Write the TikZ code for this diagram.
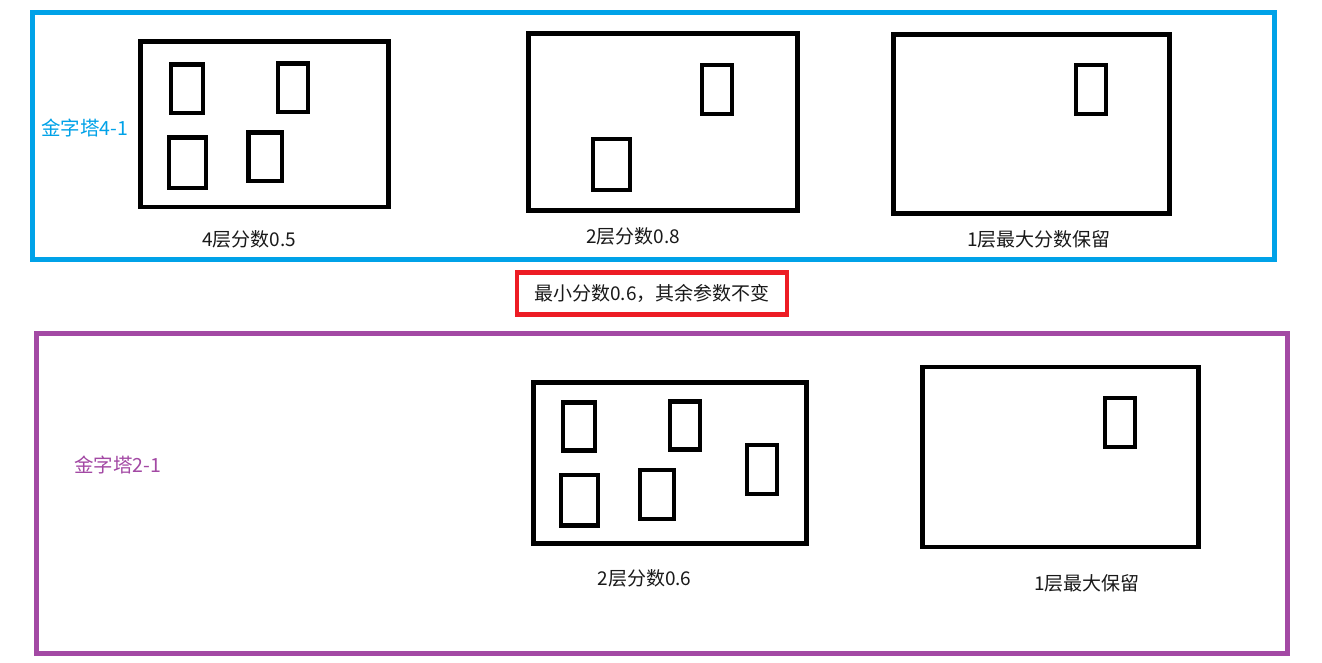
\documentclass[tikz,border=0pt]{standalone}
\usepackage{fontspec}
\setmainfont{Noto Sans CJK SC}
\usetikzlibrary{fit}
\definecolor{pblue}{HTML}{00A2E8}
\definecolor{ppurple}{HTML}{A349A4}
\definecolor{pred}{HTML}{ED1C24}
\begin{document}
\begin{tikzpicture}[x=1pt,y=-1pt,
  bigbox/.style={draw=black, line width=4.6pt, inner sep=0pt, outer sep=0pt},
  smallbox/.style={draw=black, line width=4.3pt, inner sep=0pt, outer sep=0pt},
  frame/.style={line width=5pt, inner sep=0pt, outer sep=0pt},
  lbl/.style={font=\fontsize{19}{22}\selectfont, inner sep=0pt, text=black!90},
  title/.style={font=\fontsize{19.5}{22}\selectfont, inner sep=0pt}]
\useasboundingbox[fill=white] (0,0) rectangle (1322,663);
% frames
\node[frame, draw=pblue, fit={(32,12.5)(1274,259.5)}] (topframe) {};
\node[frame, draw=ppurple, fit={(36.5,333.5)(1287.5,653.5)}] (botframe) {};
% top row
\node[bigbox, fit={(140.5,41.5)(388.5,207)}] (b1) {};
\node[smallbox, fit={(171,64.5)(203,113)}] (b1a) {};
\node[smallbox, fit={(278,63.5)(308,112)}] (b1b) {};
\node[smallbox, fit={(169,137.5)(206,188)}] (b1c) {};
\node[smallbox, fit={(248.5,132.5)(282,181)}] (b1d) {};
\node[bigbox, fit={(528.5,33.5)(797.5,210.5)}] (b2) {};
\node[smallbox, fit={(702,65)(732,114)}] (b2a) {};
\node[smallbox, fit={(593,139)(630,190)}] (b2b) {};
\node[bigbox, fit={(893.5,34.5)(1169.5,213.5)}] (b3) {};
\node[smallbox, fit={(1076,65)(1106,114)}] (b3a) {};
% bottom row
\node[bigbox, fit={(533.5,382.5)(806.5,543.5)}] (b4) {};
\node[smallbox, fit={(563,402.5)(595,450.5)}] (b4a) {};
\node[smallbox, fit={(670,401.5)(700,449.5)}] (b4b) {};
\node[smallbox, fit={(747,445)(777,494)}] (b4c) {};
\node[smallbox, fit={(561,475)(598,525.5)}] (b4d) {};
\node[smallbox, fit={(640,470)(674,519)}] (b4e) {};
\node[bigbox, fit={(922.5,367)(1198.5,547)}] (b5) {};
\node[smallbox, fit={(1105,398)(1135,447)}] (b5a) {};
% texts
\node[title, text=pblue] (t1) at (84.5,128) {金字塔4-1};
\node[title, text=ppurple] (t2) at (117.5,465) {金字塔2-1};
\node[lbl] (l1) at (249,239) {4层分数0.5};
\node[lbl] (l2) at (633,236) {2层分数0.8};
\node[lbl] (l3) at (1039,239) {1层最大分数保留};
\node[lbl] (l4) at (644.5,578) {2层分数0.6};
\node[lbl] (l5) at (1087,583) {1层最大保留};
\node[lbl, draw=pred, line width=4.5pt, minimum width=270pt, minimum height=42pt] (note) at (652,293.5) {最小分数0.6，其余参数不变};
\end{tikzpicture}
\end{document}
